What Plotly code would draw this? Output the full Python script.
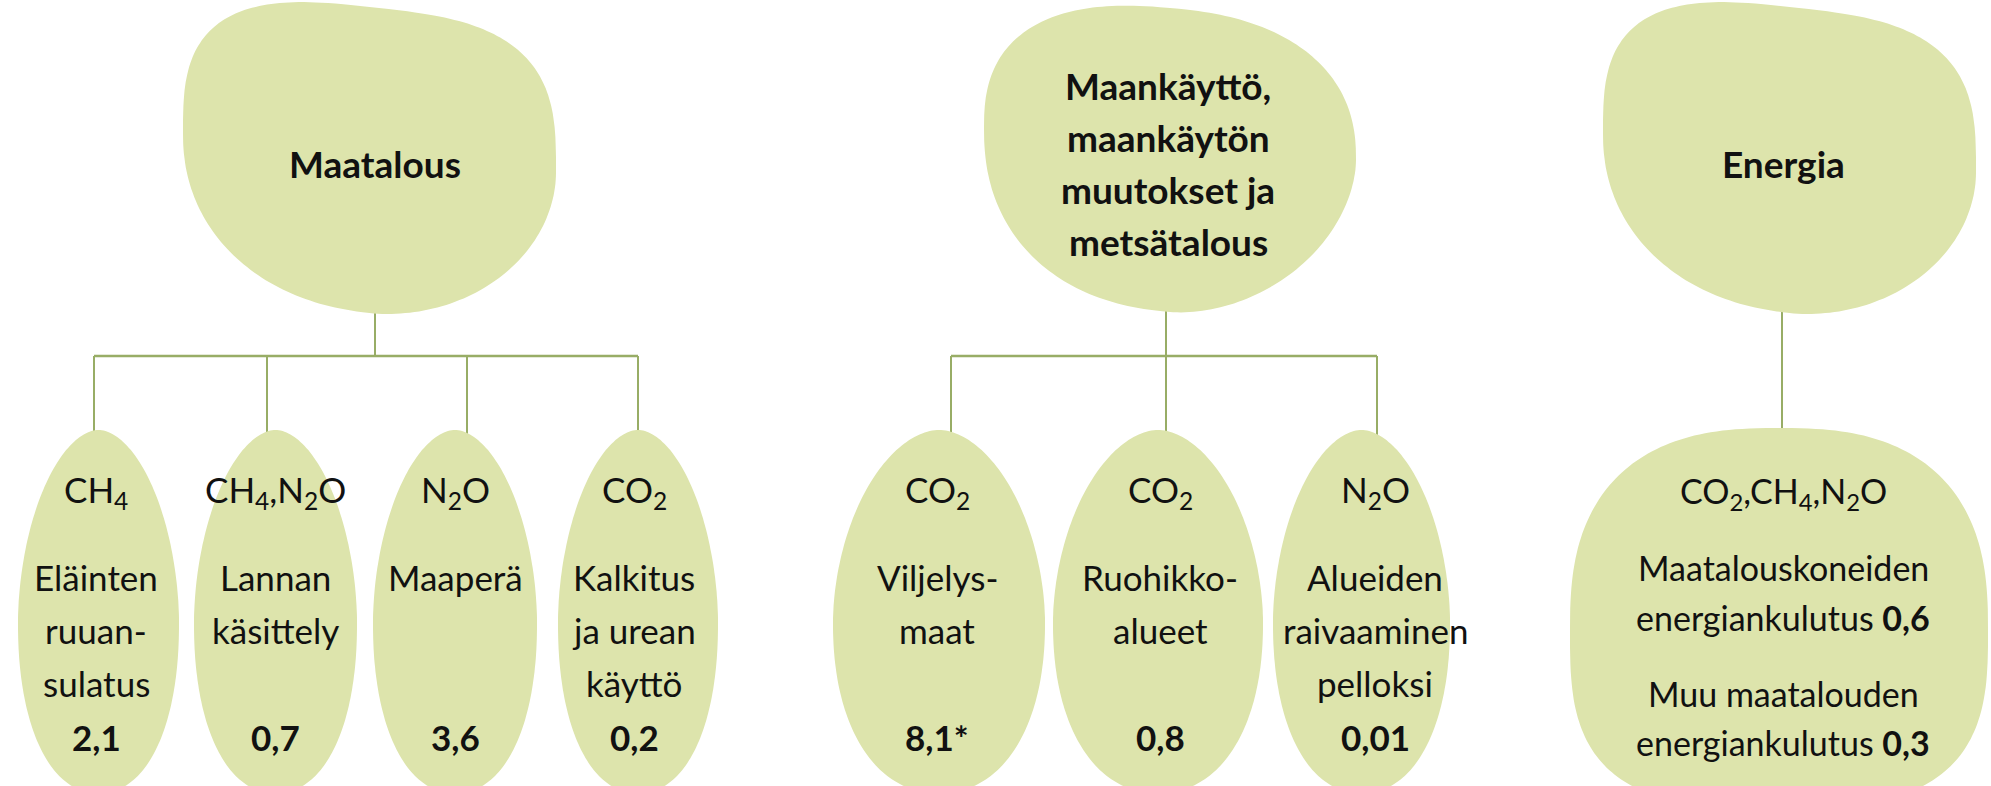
import math
import plotly.graph_objects as go

# ---------------- data ----------------
main_categories = ["Maatalous",
                   "Maankäyttö,|maankäytön|muutokset ja|metsätalous",
                   "Energia"]
sub_gases = ["CH<sub>4</sub>", "CH<sub>4</sub>,N<sub>2</sub>O", "N<sub>2</sub>O", "CO<sub>2</sub>",
             "CO<sub>2</sub>", "CO<sub>2</sub>", "N<sub>2</sub>O"]
sub_names = [["Eläinten", "ruuan-", "sulatus"], ["Lannan", "käsittely"], ["Maaperä"],
             ["Kalkitus", "ja urean", "käyttö"], ["Viljelys-", "maat"], ["Ruohikko-", "alueet"],
             ["Alueiden", "raivaaminen", "pelloksi"]]
sub_values = [2.1, 0.7, 3.6, 0.2, 8.1, 0.8, 0.01]
sub_notes = ["", "", "", "", "*", "", ""]
sub_parent = [0, 0, 0, 0, 1, 1, 1]
energy_gases = "CO<sub>2</sub>,CH<sub>4</sub>,N<sub>2</sub>O"
energy_items = [["Maatalouskoneiden", "energiankulutus"], ["Muu maatalouden", "energiankulutus"]]
energy_values = [0.6, 0.3]

# ---------------- layout geometry (pixels, y downwards) ----------------
FILL = "#DDE4AC"
LINE = "#98AD66"
FONT = "Lato"
W, H = 1991, 786

# blob = (cx, cy, a, b_top, b_bot, exps(TR, BR, BL, TL), shear)
top_blobs = [
    (369.5, 153, 186.5, 146, 160, (3.2, 1.9, 2.2, 3.0), 0.107),
    (1170, 144, 186, 136, 168, (2.4, 1.8, 2.3, 2.5), 0.086),
    (1789.5, 153, 186.5, 146, 160, (3.2, 1.9, 2.2, 3.0), 0.107),
]
top_stem_x = [375, 1166, 1782]
top_text_x = [375, 1168, 1783]

bar_y = 356
sub_boxes = [(18, 179), (194, 357), (373, 537), (558, 718), (833, 1045), (1053, 1263), (1273, 1450)]
sub_stem_x = [94, 267, 467, 638, 951, 1166, 1377]
sub_text_x = [96, 275, 455, 634, 937, 1160, 1375]
sub_top, sub_mid, sub_bot = 430, 622, 793
sub_exps = (1.85, 2.2, 2.2, 1.85)
energy_blob = (1779, 630, 209, 202, 178, (2.6, 3.0, 3.1, 2.6), 0.0)
energy_stem_x = 1782
energy_text_x = 1783

gas_y = 491
name_rows = [577, 630, 683]
value_y = 737
energy_gas_y = 493
energy_rows = [567, 617, 693, 742]
top_line_gap = 52
top_center_y = 163

SUB_SIZE = 35
ENERGY_SIZE = 34
TOP_SIZE = 37


def fmt(v):
    return str(v).replace(".", ",")


def blob_path(cx, cy, a, b_top, b_bot, exps, shear, n=240):
    pts = []
    for i in range(n):
        t = 2 * math.pi * i / n
        c, s = math.cos(t), math.sin(t)
        if c >= 0 and s < 0:
            e = exps[0]
        elif c >= 0:
            e = exps[1]
        elif s >= 0:
            e = exps[2]
        else:
            e = exps[3]
        dx = a * math.copysign(abs(c) ** (2 / e), c)
        b = b_bot if s >= 0 else b_top
        dy = b * math.copysign(abs(s) ** (2 / e), s)
        pts.append((cx + dx, cy + dy + shear * dx))
    return "M " + " L ".join(f"{x:.1f},{y:.1f}" for x, y in pts) + " Z"


shapes = []
annotations = []


def line(x0, y0, x1, y1, w=2):
    shapes.append(dict(type="line", xref="x", yref="y", x0=x0, y0=y0, x1=x1, y1=y1,
                       line=dict(color=LINE, width=w), layer="below"))


def text(x, y, s, size, bold=False):
    if bold:
        s = f"<b>{s}</b>"
    annotations.append(dict(x=x, y=y, xref="x", yref="y", text=s, showarrow=False,
                            xanchor="center", yanchor="middle",
                            font=dict(family=FONT, size=size, color="#111111")))


# connector lines
for k in range(3):
    kids = [i for i, p in enumerate(sub_parent) if p == k]
    bottom_of_top = top_blobs[k][1] + top_blobs[k][4] - 6
    if kids:
        line(top_stem_x[k], bottom_of_top, top_stem_x[k], bar_y)
        xs = [sub_stem_x[i] for i in kids]
        line(min(xs), bar_y, max(xs), bar_y, 2.5)
        for i in kids:
            line(sub_stem_x[i], bar_y, sub_stem_x[i], sub_top + 6)
    else:
        line(energy_stem_x, bottom_of_top, energy_stem_x, energy_blob[1] - energy_blob[3] + 6)

# blobs
for blob in top_blobs:
    shapes.append(dict(type="path", xref="x", yref="y", path=blob_path(*blob),
                       fillcolor=FILL, line=dict(width=0), layer="below"))
for a, b in sub_boxes:
    cx = (a + b) / 2
    shapes.append(dict(type="path", xref="x", yref="y",
                       path=blob_path(cx, sub_mid, (b - a) / 2, sub_mid - sub_top, sub_bot - sub_mid,
                                      sub_exps, 0.0),
                       fillcolor=FILL, line=dict(width=0), layer="below"))
shapes.append(dict(type="path", xref="x", yref="y", path=blob_path(*energy_blob),
                   fillcolor=FILL, line=dict(width=0), layer="below"))

# top texts
for k, name in enumerate(main_categories):
    parts = name.split("|")
    n = len(parts)
    for j, p in enumerate(parts):
        y = top_center_y + (j - (n - 1) / 2) * top_line_gap
        text(top_text_x[k], y, p, TOP_SIZE, bold=True)

# sub texts
for i in range(len(sub_values)):
    x = sub_text_x[i]
    text(x, gas_y, sub_gases[i], SUB_SIZE)
    for j, s in enumerate(sub_names[i]):
        text(x, name_rows[j], s, SUB_SIZE)
    text(x, value_y, fmt(sub_values[i]) + sub_notes[i], SUB_SIZE, bold=True)

# energy texts
text(energy_text_x, energy_gas_y, energy_gases, ENERGY_SIZE)
for j, (l1, l2) in enumerate(energy_items):
    text(energy_text_x, energy_rows[2 * j], l1, ENERGY_SIZE)
    text(energy_text_x, energy_rows[2 * j + 1], f"{l2} <b>{fmt(energy_values[j])}</b>", ENERGY_SIZE)

fig = go.Figure()
fig.update_layout(
    width=W, height=H, margin=dict(l=0, r=0, t=0, b=0),
    paper_bgcolor="white", plot_bgcolor="white",
    xaxis=dict(range=[0, W], visible=False, fixedrange=True),
    yaxis=dict(range=[H, 0], visible=False, fixedrange=True),
    shapes=shapes, annotations=annotations, showlegend=False,
)
fig.write_html("out.html", config={"displayModeBar": False},
               post_script="document.body.style.margin='0';document.body.style.overflow='hidden';")
